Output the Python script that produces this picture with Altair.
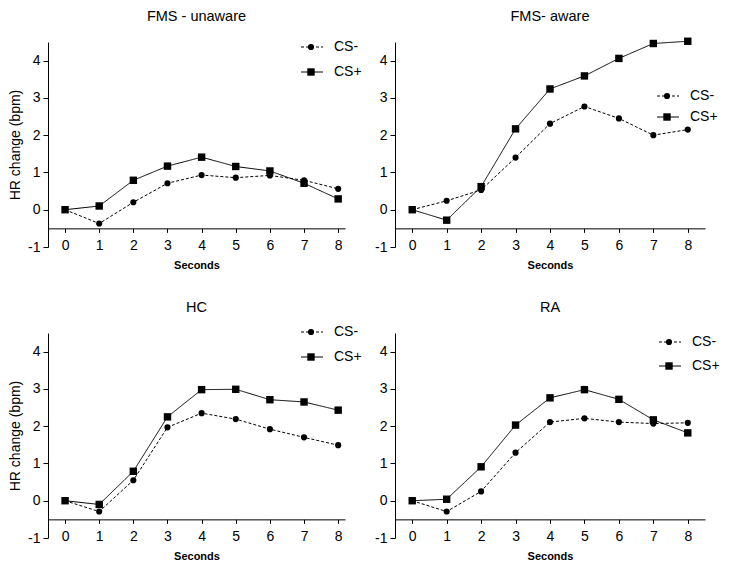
import altair as alt
import pandas as pd

seconds = [0, 1, 2, 3, 4, 5, 6, 7, 8]

unaware_minus = [0, -0.37, 0.20, 0.71, 0.93, 0.86, 0.92, 0.79, 0.56]
unaware_plus = [0, 0.10, 0.79, 1.17, 1.41, 1.16, 1.04, 0.71, 0.29]

aware_minus = [0, 0.24, 0.53, 1.40, 2.31, 2.77, 2.45, 2.00, 2.15]
aware_plus = [0, -0.28, 0.62, 2.17, 3.24, 3.59, 4.06, 4.46, 4.52]

hc_minus = [0, -0.29, 0.55, 1.97, 2.35, 2.19, 1.92, 1.70, 1.49]
hc_plus = [0, -0.10, 0.79, 2.25, 2.98, 2.99, 2.71, 2.65, 2.43]

ra_minus = [0, -0.29, 0.25, 1.29, 2.11, 2.21, 2.11, 2.07, 2.09]
ra_plus = [0, 0.04, 0.91, 2.03, 2.76, 2.98, 2.72, 2.17, 1.82]

series_names = ["CS-", "CS+"]
y_ticks = [-1, 0, 1, 2, 3, 4]

FONT = "Liberation Sans"
H = 205
SIZES = [38, 55]


def legend_layers(x0, y0, dy):
    layers = []
    for i, name in enumerate(series_names):
        d = pd.DataFrame({"series": [name]})
        yy = y0 + i * dy
        dash = [3, 2] if name == "CS-" else [1, 0]
        shape = "circle" if name == "CS-" else "square"
        layers.append(
            alt.Chart(d).mark_rule(color="black", strokeWidth=1, strokeDash=dash).encode(
                x=alt.value(x0), x2=alt.value(x0 + 22), y=alt.value(yy)
            )
        )
        layers.append(
            alt.Chart(d).mark_point(filled=True, color="black", opacity=1, shape=shape, size=SIZES[i]).encode(
                x=alt.value(x0 + 10), y=alt.value(yy)
            )
        )
        layers.append(
            alt.Chart(d).mark_text(align="left", baseline="middle", font=FONT, fontSize=14, color="black").encode(
                x=alt.value(x0 + 33), y=alt.value(yy), text="series:N"
            )
        )
    return layers


def panel(title, minus, plus, xmax, width, ytitle, leg):
    df = pd.DataFrame({
        "second": seconds * 2,
        "value": minus + plus,
        "series": ["CS-"] * len(seconds) + ["CS+"] * len(seconds),
    })
    x = alt.X(
        "second:Q",
        scale=alt.Scale(domain=[-0.5, xmax], nice=False, zero=False),
        axis=alt.Axis(
            values=seconds, offset=-H * 0.5 / 5.5, tickSize=4, labelPadding=6,
            title="Seconds", titleFontWeight="bold", titleFontSize=11, titlePadding=7,
            labelFontSize=14, labelFlush=False, grid=False,
        ),
    )
    yaxis = dict(values=y_ticks, tickSize=5, labelPadding=3, labelFontSize=14, grid=False,
                 labelExpr="'' + datum.value",
                 titleFontSize=14, titleFontWeight="normal", titlePadding=5)
    y = alt.Y("value:Q", scale=alt.Scale(domain=[-1, 4.5], nice=False, zero=False),
              axis=alt.Axis(title="HR change (bpm)" if ytitle else None, **yaxis))
    base = alt.Chart(df)
    lines = base.mark_line(color="black", strokeWidth=1).encode(
        x=x, y=y,
        strokeDash=alt.StrokeDash("series:N", scale=alt.Scale(domain=series_names, range=[[3, 2], [1, 0]]), legend=None),
    )
    pts = base.mark_point(filled=True, color="black", opacity=1).encode(
        x=x, y=y,
        shape=alt.Shape("series:N", scale=alt.Scale(domain=series_names, range=["circle", "square"]), legend=None),
        size=alt.Size("series:N", scale=alt.Scale(domain=series_names, range=SIZES), legend=None),
    )
    ttl = alt.Chart(pd.DataFrame({"t": [title]})).mark_text(
        align="center", baseline="middle", font=FONT, fontSize=14.5, color="black"
    ).encode(x=alt.value(width / 2), y=alt.value(-25), text="t:N")
    return alt.layer(lines, pts, ttl, *legend_layers(*leg)).properties(width=width, height=H)


p1 = panel("FMS - unaware", unaware_minus, unaware_plus, 8.2, 297, True, (253, 5, 25))
p2 = panel("FMS- aware", aware_minus, aware_plus, 8.5, 310, False, (262, 54, 21))
p3 = panel("HC", hc_minus, hc_plus, 8.2, 297, True, (253, -1, 25))
p4 = panel("RA", ra_minus, ra_plus, 8.5, 310, False, (264, 9, 24))

chart = alt.vconcat(
    alt.hconcat(p1, p2, spacing=12),
    alt.hconcat(p3, p4, spacing=12),
    spacing=29,
).properties(padding={"top": 1, "left": 0, "right": 0, "bottom": 0}).configure_view(stroke=None).configure_axis(
    domainColor="black", tickColor="black", labelColor="black", titleColor="black",
    labelFont=FONT, titleFont=FONT, domainWidth=1, tickWidth=1,
)

chart.save("out.html", embed_options={"renderer": "svg", "actions": False})
